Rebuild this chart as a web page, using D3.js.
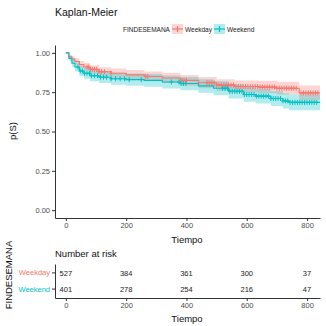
<!DOCTYPE html>
<html>
<head>
<meta charset="utf-8">
<script src="https://cdn.jsdelivr.net/npm/d3@7"></script>
<style>
  body { margin: 0; background: #fff; }
  text { font-family: "Liberation Sans", Arial, sans-serif; }
</style>
</head>
<body>
<svg id="chart" width="326" height="326"></svg>
<script>
const groups = ["Weekday", "Weekend"];
const colors = ["#F8766D", "#00BFC4"];

// Kaplan-Meier steps
const weekdayTime = [0, 10, 20, 30, 45, 60, 80, 110, 150, 200, 260, 320, 380, 440, 500, 560, 640, 700, 774];
const weekdaySurv = [1, 0.975, 0.96, 0.945, 0.925, 0.91, 0.895, 0.88, 0.87, 0.86, 0.85, 0.84, 0.825, 0.81, 0.795, 0.786, 0.782, 0.775, 0.745];
const weekdayLow  = [1, 0.962, 0.943, 0.925, 0.903, 0.886, 0.869, 0.852, 0.841, 0.830, 0.819, 0.808, 0.791, 0.775, 0.758, 0.748, 0.743, 0.735, 0.700];
const weekdayHigh = [1, 0.988, 0.977, 0.965, 0.948, 0.935, 0.922, 0.909, 0.900, 0.891, 0.882, 0.873, 0.860, 0.846, 0.833, 0.825, 0.822, 0.816, 0.792];

const weekendTime = [0, 10, 20, 30, 45, 60, 80, 110, 150, 200, 260, 320, 380, 440, 490, 540, 590, 630, 680, 720, 740];
const weekendSurv = [1, 0.965, 0.935, 0.91, 0.885, 0.87, 0.855, 0.845, 0.835, 0.83, 0.825, 0.815, 0.805, 0.79, 0.775, 0.755, 0.735, 0.725, 0.71, 0.695, 0.685];
const weekendLow  = [1, 0.947, 0.911, 0.882, 0.853, 0.836, 0.819, 0.808, 0.797, 0.791, 0.785, 0.774, 0.763, 0.747, 0.731, 0.710, 0.689, 0.678, 0.662, 0.646, 0.635];
const weekendHigh = [1, 0.983, 0.959, 0.938, 0.917, 0.904, 0.891, 0.882, 0.873, 0.869, 0.865, 0.856, 0.847, 0.833, 0.819, 0.800, 0.781, 0.772, 0.758, 0.744, 0.735];

const weekdayCensor = [70, 76, 82, 88, 95, 102, 110, 118, 128, 150, 265, 272, 385, 392, 400, 468, 476, 484, 492, 500, 508, 516, 524, 532, 540, 548, 556, 564, 572, 580, 588, 596, 604, 612, 620, 628, 636, 644, 652, 660, 668, 676, 684, 692, 700, 708, 716, 724, 732, 740, 748, 756, 764, 780, 788, 796, 804, 812, 820, 828, 836];
const weekendCensor = [40, 48, 55, 62, 70, 78, 85, 95, 105, 115, 125, 135, 150, 165, 180, 195, 210, 250, 350, 375, 382, 390, 398, 520, 528, 536, 544, 552, 560, 568, 576, 584, 592, 600, 608, 616, 624, 632, 640, 648, 656, 664, 672, 680, 688, 696, 704, 712, 720, 728, 736, 744, 752, 760, 768, 776, 784, 792, 800, 808, 816, 824, 832];

const maxTime = 843;
const xTicks = [0, 200, 400, 600, 800];
const yTicks = [0, 0.25, 0.5, 0.75, 1];

const riskTimes = [0, 200, 400, 600, 800];
const weekdayRisk = [527, 384, 361, 300, 37];
const weekendRisk = [401, 278, 254, 216, 47];

const curves = [
  { time: weekdayTime, surv: weekdaySurv, low: weekdayLow, high: weekdayHigh, censor: weekdayCensor },
  { time: weekendTime, surv: weekendSurv, low: weekendLow, high: weekendHigh, censor: weekendCensor }
];
const risks = [weekdayRisk, weekendRisk];

const svg = d3.select("#chart");
const axisColor = "#333";
const tickText = "#4d4d4d";

const x = d3.scaleLinear().domain([-36, maxTime]).range([55, 320]);
const y = d3.scaleLinear().domain([-0.05, 1.05]).range([218, 45]);

// title
svg.append("text").attr("x", 55).attr("y", 16)
  .style("font-size", "10.5px").attr("fill", "#111").text("Kaplan-Meier");

// legend
const lg = svg.append("g").attr("transform", "translate(0,29)");
lg.append("text").attr("x", 123).attr("y", 2.5).style("font-size", "6.5px").attr("fill", "#222").text("FINDESEMANA");
const legX = [172, 214];
groups.forEach((g, i) => {
  const k = lg.append("g").attr("transform", `translate(${legX[i]},0)`);
  k.append("rect").attr("x", 0).attr("y", -5).attr("width", 11).attr("height", 10)
    .attr("fill", colors[i]).attr("fill-opacity", 0.3);
  k.append("line").attr("x1", 0).attr("x2", 11).attr("y1", 0).attr("y2", 0)
    .attr("stroke", colors[i]).attr("stroke-width", 1.2);
  k.append("line").attr("x1", 5.5).attr("x2", 5.5).attr("y1", -3).attr("y2", 3)
    .attr("stroke", colors[i]).attr("stroke-width", 1.2);
  k.append("text").attr("x", 13).attr("y", 2.5).style("font-size", "6.5px").attr("fill", "#222").text(g);
});

// main panel
const main = svg.append("g");

function stepPoints(c, key) {
  const pts = c.time.map((t, i) => [t, c[key][i]]);
  pts.push([maxTime, c[key][c[key].length - 1]]);
  return pts;
}

curves.forEach((c, i) => {
  const lowPts = stepPoints(c, "low");
  const highPts = stepPoints(c, "high");
  const area = d3.area()
    .curve(d3.curveStepAfter)
    .x(d => x(d[0]))
    .y0((d, j) => y(lowPts[j][1]))
    .y1((d, j) => y(highPts[j][1]));
  main.append("path").datum(highPts).attr("d", area)
    .attr("fill", colors[i]).attr("fill-opacity", 0.3).attr("stroke", "none");
});

curves.forEach((c, i) => {
  const pts = stepPoints(c, "surv");
  const line = d3.line().curve(d3.curveStepAfter).x(d => x(d[0])).y(d => y(d[1]));
  main.append("path").datum(pts).attr("d", line)
    .attr("fill", "none").attr("stroke", colors[i]).attr("stroke-width", 1.1);

  const survAt = t => {
    const j = d3.bisectRight(c.time, t) - 1;
    return c.surv[Math.max(0, j)];
  };
  main.append("g").selectAll("path").data(c.censor).join("path")
    .attr("d", t => {
      const cx = x(t), cy = y(survAt(t));
      return `M${cx - 1.8},${cy}H${cx + 1.8}M${cx},${cy - 2.5}V${cy + 2.5}`;
    })
    .attr("stroke", colors[i]).attr("stroke-width", 1);
});

function styleAxis(g) {
  g.select(".domain").attr("stroke", axisColor).attr("stroke-width", 1);
  g.selectAll(".tick line").attr("stroke", axisColor);
  g.selectAll(".tick text").attr("fill", tickText).style("font-size", "7.5px")
    .style("font-family", "Liberation Sans, Arial, sans-serif");
}

main.append("g").attr("transform", "translate(55,0)")
  .call(d3.axisLeft(y).tickValues(yTicks).tickFormat(d3.format(".2f")).tickSize(3).tickSizeOuter(0).tickPadding(2))
  .call(styleAxis);
main.append("g").attr("transform", "translate(0,218)")
  .call(d3.axisBottom(x).tickValues(xTicks).tickSize(3).tickSizeOuter(0).tickPadding(2))
  .call(styleAxis);

svg.append("text").attr("transform", "translate(16,131) rotate(-90)")
  .attr("text-anchor", "middle").style("font-size", "9.5px").attr("fill", "#111").text("p(S)");
svg.append("text").attr("x", 187).attr("y", 243)
  .attr("text-anchor", "middle").style("font-size", "9.5px").attr("fill", "#111").text("Tiempo");

// risk table
svg.append("text").attr("x", 55).attr("y", 257)
  .style("font-size", "9.5px").attr("fill", "#111").text("Number at risk");

const yr = d3.scaleBand().domain(groups).range([264, 298]).padding(0.1);
const table = svg.append("g");
groups.forEach((g, i) => {
  table.append("g").selectAll("text").data(riskTimes).join("text")
    .attr("x", d => x(d))
    .attr("y", yr(g) + yr.bandwidth() / 2 + 2.7)
    .attr("text-anchor", "middle")
    .style("font-size", "7.5px").attr("fill", "#222")
    .text((d, j) => risks[i][j]);
});

table.append("g").attr("transform", "translate(55,0)")
  .call(d3.axisLeft(yr).tickSize(3).tickSizeOuter(0).tickPadding(2))
  .call(styleAxis)
  .selectAll(".tick text").attr("fill", (d, i) => colors[i]);
table.append("g").attr("transform", "translate(0,298)")
  .call(d3.axisBottom(x).tickValues(xTicks).tickSize(3).tickSizeOuter(0).tickPadding(2))
  .call(styleAxis);

svg.append("text").attr("x", 187).attr("y", 322)
  .attr("text-anchor", "middle").style("font-size", "9.5px").attr("fill", "#111").text("Tiempo");
svg.append("text").attr("transform", "translate(12,275) rotate(-90)")
  .attr("text-anchor", "middle").style("font-size", "9.5px").attr("fill", "#111").text("FINDESEMANA");
</script>
</body>
</html>
